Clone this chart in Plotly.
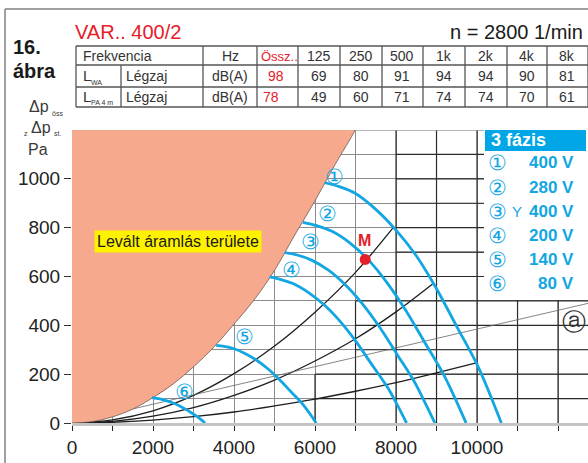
import plotly.graph_objects as go

# ---------------- data ----------------
FLOW_TICKS = [0, 2000, 4000, 6000, 8000, 10000]
PRESSURE_TICKS = [0, 200, 400, 600, 800, 1000]

# boundary of the stall (separated-flow) region, m3/h vs Pa
SEP_Q = [0, 500, 1000, 1500, 2000, 2500, 3000, 3500, 4000, 4500, 5000, 5500, 6000, 6500, 6990, 7050]
SEP_P = [0, 6, 25, 57, 104, 160, 230, 310, 405, 505, 625, 770, 910, 1060, 1200, 1230]

# fan curves at the six supply voltages
Q1 = [6240, 6600, 7000, 7500, 8000, 8500, 9000, 9500, 10000, 10300, 10600]
P1 = [984, 968, 940, 875, 790, 685, 550, 395, 240, 125, 0]
Q2 = [5700, 6050, 6420, 6880, 7340, 7790, 8250, 8710, 9170, 9450, 9730]
P2 = [822, 808, 785, 735, 664, 572, 459, 330, 200, 104, 0]
Q3 = [5260, 5580, 5915, 6340, 6760, 7180, 7605, 8030, 8450, 8700, 8960]
P3 = [698, 687, 667, 625, 564, 486, 390, 280, 170, 89, 0]
Q4 = [4880, 5140, 5455, 5840, 6230, 6620, 7010, 7400, 7790, 8025, 8260]
P4 = [598, 588, 571, 534, 483, 416, 334, 240, 146, 76, 0]
Q5 = [3560, 3755, 3985, 4270, 4550, 4835, 5120, 5405, 5690, 5860, 6030]
P5 = [318, 314, 305, 285, 258, 222, 178, 128, 78, 41, 0]
Q6 = [1970, 2045, 2170, 2325, 2480, 2635, 2790, 2945, 3100, 3195, 3285]
P6 = [104, 102, 99, 92, 83, 72, 58, 42, 25, 13, 0]

FAN_MARKS = ["①", "②", "③", "④", "⑤", "⑥"]
FAN_VOLTAGES = ["400 V", "280 V", "400 V", "200 V", "140 V", "80 V"]
FAN_MARK_Q = [6490, 6300, 5900, 5420, 4270, 2770]
FAN_MARK_P = [1010, 859, 745, 630, 353, 128]

# system resistance curves
SYS_A_Q = [0, 1000, 2000, 3000, 4000, 5000, 6000, 7000, 7930]
SYS_A_P = [0, 13, 50, 113, 202, 315, 454, 617, 800]
SYS_B_Q = [0, 1000, 2000, 3000, 4000, 5000, 6000, 7000, 8000, 8910]
SYS_B_P = [0, 7, 28, 63, 113, 176, 254, 345, 455, 570]
SYS_C_Q = [0, 1000, 2000, 3000, 4000, 5000, 6000, 7000, 8000, 9000, 9980]
SYS_C_P = [0, 3, 12, 26, 45, 70, 98, 130, 165, 205, 246]
LINE_A_Q = [0, 13000]
LINE_A_P = [0, 500]

# operating point M
M_Q = [7240]
M_P = [670]

# noise table
BANDS = ["125", "250", "500", "1k", "2k", "4k", "8k"]
LWA = [69, 80, 91, 94, 94, 90, 81]
LPA = [49, 60, 71, 74, 74, 70, 61]
LWA_TOTAL = 98
LPA_TOTAL = 78
SPEED = 2800

# ---------------- layout geometry ----------------
W, H = 588, 463
ML, MR, MT, MB = 72, 0, 130, 40
Q_MAX, P_MAX = 12740, 1200


def px(x):
    return (x - ML) / (W - ML - MR)


def py(y):
    return (H - MB - y) / (H - MT - MB)


BLUE = "#12A6E2"
RED = "#E5202A"
SALMON = "#F6A98D"
INK = "#2a2a2a"
FONT = "Liberation Sans, Arial, Helvetica, sans-serif"
NARROW = "Liberation Sans Narrow, Arial Narrow, Liberation Sans, sans-serif"

fig = go.Figure()

# system curves (beneath the stall region)
for q, p in [(SYS_A_Q, SYS_A_P), (SYS_B_Q, SYS_B_P), (SYS_C_Q, SYS_C_P)]:
    fig.add_trace(go.Scatter(x=q, y=p, mode="lines", line=dict(color="#1e1e1e", width=1.3, shape="spline"),
                             hoverinfo="skip", showlegend=False))
fig.add_trace(go.Scatter(x=LINE_A_Q, y=LINE_A_P, mode="lines", line=dict(color="#666", width=0.8),
                         hoverinfo="skip", showlegend=False))

# stall region
fig.add_trace(go.Scatter(x=SEP_Q + [-300, -300], y=SEP_P + [1230, 0], mode="lines", fill="toself",
                         fillcolor=SALMON, line=dict(color="#6a5a55", width=0.8, shape="spline"),
                         hoverinfo="skip", showlegend=False))

# fan curves
for q, p in [(Q1, P1), (Q2, P2), (Q3, P3), (Q4, P4), (Q5, P5), (Q6, P6)]:
    fig.add_trace(go.Scatter(x=q, y=p, mode="lines", line=dict(color=BLUE, width=2.8, shape="spline"),
                             hoverinfo="skip", showlegend=False))

# operating point
fig.add_trace(go.Scatter(x=M_Q, y=M_P, mode="markers", marker=dict(color=RED, size=11),
                         hoverinfo="skip", showlegend=False))

shapes = []
# darker grid patches on the right-hand part of the diagram
dark = dict(color="#2b2b2b", width=1.2)
for q in range(8000, 13000, 1000):
    shapes.append(dict(type="line", xref="x", yref="y", x0=q, x1=q, y0=0, y1=P_MAX, line=dark, layer="between"))
shapes.append(dict(type="line", xref="x", yref="y", x0=7000, x1=7000, y0=0, y1=500, line=dark, layer="between"))
shapes.append(dict(type="line", xref="x", yref="y", x0=6000, x1=6000, y0=0, y1=200, line=dark, layer="between"))
for p in range(100, 1200, 100):
    q0 = 6000 if p <= 200 else (7000 if p <= 600 else 8000)
    shapes.append(dict(type="line", xref="x", yref="y", x0=q0, x1=Q_MAX, y0=p, y1=p, line=dark, layer="between"))
# top edge of the grid
shapes.append(dict(type="line", xref="x", yref="y", x0=0, x1=Q_MAX, y0=P_MAX, y1=P_MAX,
                   line=dict(color="#9a9a9a", width=1.5), layer="between"))

# page frame
shapes.append(dict(type="line", xref="paper", yref="paper", x0=px(5), x1=px(5), y0=py(9), y1=py(470),
                   line=dict(color="#a0a0a0", width=2)))
shapes.append(dict(type="line", xref="paper", yref="paper", x0=px(5), x1=px(600), y0=py(9), y1=py(9),
                   line=dict(color="#a0a0a0", width=2)))

# noise table grid
tline = dict(color="#555", width=1.3)
for yy in [46, 65, 87, 107]:
    shapes.append(dict(type="line", xref="paper", yref="paper", x0=px(76), x1=px(600), y0=py(yy), y1=py(yy), line=tline))
for xx in [76, 203, 257, 298, 340, 382, 423, 465, 507, 547, 588]:
    shapes.append(dict(type="line", xref="paper", yref="paper", x0=px(xx), x1=px(xx), y0=py(46), y1=py(107), line=tline))
shapes.append(dict(type="line", xref="paper", yref="paper", x0=px(121), x1=px(121), y0=py(65), y1=py(107), line=tline))

# legend panel
shapes.append(dict(type="rect", xref="paper", yref="paper", x0=px(484), x1=px(600), y0=py(129), y1=py(300),
                   fillcolor="white", line=dict(width=0), layer="above"))
shapes.append(dict(type="rect", xref="paper", yref="paper", x0=px(485), x1=px(586), y0=py(130), y1=py(151),
                   fillcolor="#00A6E6", line=dict(width=0), layer="above"))

ann = []


def note(text, x, y, size, color=INK, xanchor="left", family=FONT, ref="paper"):
    if ref == "paper":
        ann.append(dict(text=text, x=px(x), y=py(y), xref="paper", yref="paper", showarrow=False,
                        xanchor=xanchor, yanchor="middle", font=dict(size=size, color=color, family=family)))
    else:
        ann.append(dict(text=text, x=x, y=y, xref="x", yref="y", showarrow=False,
                        xanchor=xanchor, yanchor="middle", font=dict(size=size, color=color, family=family)))


# title block
note("<b>16.</b>", 11, 47, 20, "#1a1a1a")
note("<b>ábra</b>", 11, 71, 20, "#1a1a1a")
note("VAR.. 400/2", 73, 32, 20, RED)
note(f"n = {SPEED} 1/min", 448, 32, 20, "#1a1a1a")

# table contents
TS = 14
note("Frekvencia", 81, 56, TS, "#333", family=NARROW)
note("Hz", 230, 56, TS, "#333", "center", NARROW)
note("Össz..", 259, 56, 13, RED, family=NARROW)
col_x = [319, 361, 402, 444, 486, 527, 567]
for cx, b, a, c in zip(col_x, BANDS, LWA, LPA):
    note(b, cx, 56, TS, "#333", "center", NARROW)
    note(str(a), cx, 76, TS, "#333", "center", NARROW)
    note(str(c), cx, 97, TS, "#333", "center", NARROW)
note("L", 81, 75, 15, "#333", family=NARROW)
note("WA", 89, 82, 7, "#333", family=NARROW)
note("L", 81, 96, 15, "#333", family=NARROW)
note("PA 4 m", 89, 103, 7, "#333", family=NARROW)
note("Légzaj", 124, 76, TS, "#333", family=NARROW)
note("Légzaj", 124, 97, TS, "#333", family=NARROW)
note("dB(A)", 230, 76, TS, "#333", "center", NARROW)
note("dB(A)", 230, 97, TS, "#333", "center", NARROW)
note(str(LWA_TOTAL), 276, 76, TS, RED, "center", NARROW)
note(str(LPA_TOTAL), 271, 97, TS, RED, "center", NARROW)

# axis caption
note("Δp", 27, 107, 16, "#3a3a3a")
note("öss", 50, 113, 7, "#3a3a3a")
note("z", 22, 133, 7, "#3a3a3a")
note("Δp", 29, 128, 16, "#3a3a3a")
note("st.", 52, 133, 7, "#3a3a3a")
note("Pa", 26, 149, 16, "#3a3a3a")

# curve markers
for t, q, p in zip(FAN_MARKS, FAN_MARK_Q, FAN_MARK_P):
    note(t, q, p, 21, BLUE, "center", FONT, ref="data")
note("<b>M</b>", M_Q[0] - 20, M_P[0] + 78, 16, RED, "center", FONT, ref="data")
note("ⓐ", 574, 321, 24, "#333", "center")

# stall region label
ann.append(dict(text="Levált áramlás területe", x=px(178), y=py(241), xref="paper", yref="paper",
                showarrow=False, xanchor="center", yanchor="middle", bgcolor="#FFF200", borderpad=2,
                font=dict(size=16, color="#1a1a1a", family=FONT)))

# legend panel text
note("<b>3 fázis</b>", 489, 140, 18, "white", family=NARROW)
row_y = [162, 187, 211, 235, 259, 283]
for t, v, ry in zip(FAN_MARKS, FAN_VOLTAGES, row_y):
    note(t, 497, ry, 21, BLUE, "center")
    note(f"<b>{v}</b>", 576, ry, 17, BLUE, "right", NARROW)
note("Y", 517, row_y[2], 15, BLUE, "center")

fig.update_layout(
    width=W, height=H,
    margin=dict(l=ML, r=MR, t=MT, b=MB),
    paper_bgcolor="white", plot_bgcolor="white",
    shapes=shapes, annotations=ann,
    xaxis=dict(range=[0, Q_MAX], tickmode="array", tickvals=FLOW_TICKS,
               ticktext=[str(v) for v in FLOW_TICKS], ticks="outside", ticklen=5, tickcolor="#222",
               showgrid=True, gridcolor="#8c8c8c", gridwidth=1, zeroline=False,
               showline=True, linecolor="#c4c4c4", linewidth=3,
               minor=dict(tickmode="linear", tick0=0, dtick=1000, ticks="outside", ticklen=5,
                          tickcolor="#222", showgrid=True, gridcolor="#8c8c8c", gridwidth=1),
               tickfont=dict(size=19, color="#222", family=FONT), fixedrange=True),
    yaxis=dict(range=[0, P_MAX], tickmode="array", tickvals=PRESSURE_TICKS,
               ticktext=[str(v) for v in PRESSURE_TICKS], ticks="outside", ticklen=7, tickcolor="#333",
               showgrid=True, gridcolor="#8c8c8c", gridwidth=1, zeroline=False, showline=False,
               minor=dict(tickmode="linear", tick0=0, dtick=100, ticks="", showgrid=True,
                          gridcolor="#8c8c8c", gridwidth=1),
               tickfont=dict(size=19, color="#222", family=FONT), fixedrange=True),
    showlegend=False,
)

fig.write_html("out.html")
